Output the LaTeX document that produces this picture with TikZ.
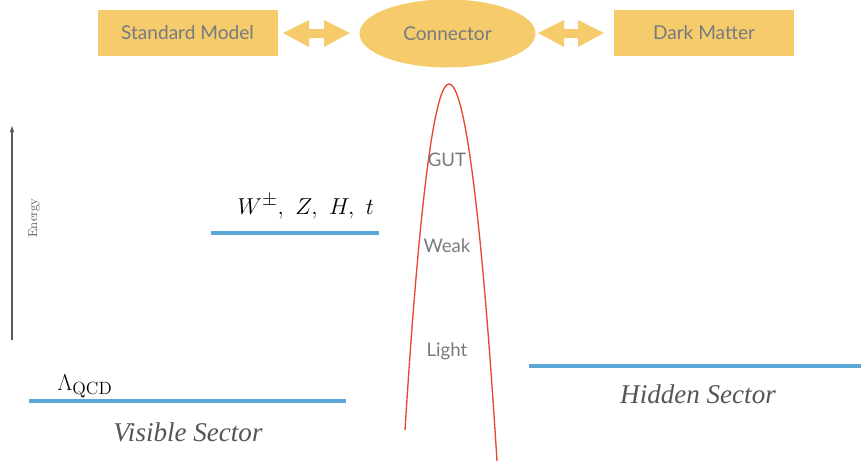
\documentclass[tikz,border=0pt]{standalone}
\usepackage{fontspec}
\setsansfont{Lato}
\newfontfamily\itfont{Liberation Serif}
\usetikzlibrary{shapes.geometric,arrows.meta}
\definecolor{boxyellow}{HTML}{F5CB6B}
\definecolor{boxtext}{HTML}{767B7F}
\definecolor{levelblue}{HTML}{5AA7D8}
\definecolor{curvered}{HTML}{E8462F}
\definecolor{sectorgray}{HTML}{555555}
\tikzset{
  x=0.75pt, y=-0.75pt,
  topbox/.style={fill=boxyellow, draw=none, minimum width=135pt, minimum height=34.5pt, inner sep=0pt,
    font=\sffamily\fontsize{14.3}{16}\selectfont, text=boxtext},
  connbox/.style={ellipse, fill=boxyellow, draw=none, minimum width=132pt, minimum height=51pt, inner sep=0pt,
    font=\sffamily\fontsize{14.3}{16}\selectfont, text=boxtext},
  dbl/.style={fill=boxyellow, draw=none},
  level/.style={draw=levelblue, line width=2.6pt},
  scale label/.style={font=\sffamily\fontsize{14}{16}\selectfont, text=boxtext},
  sector/.style={font=\itfont\itshape\fontsize{20.3}{22}\selectfont, text=sectorgray},
  mathlabel/.style={font=\fontsize{19}{21}\selectfont, text=black}
}
\begin{document}
\begin{tikzpicture}
\useasboundingbox (0,0) rectangle (861,461);
% top row
\node[topbox] (sm) at (187.5,33) {Standard Model};
\node[connbox] (conn) at (447.5,33.5) {Connector};
\node[topbox] (dm) at (704,33) {Dark Matter};
% double arrows
\fill[dbl] (283,33) -- (309,20) -- (309,29) -- (324,29) -- (324,20) -- (350,33)
  -- (324,47) -- (324,38) -- (309,38) -- (309,47) -- cycle;
\fill[dbl] (538,33) -- (564,20) -- (564,29) -- (578,29) -- (578,20) -- (604,33)
  -- (578,47) -- (578,38) -- (564,38) -- (564,47) -- cycle;
% energy axis
\coordinate (ebot) at (12,340);
\coordinate (etop) at (12,126);
\draw[line width=0.8pt, draw=black!65, -{Stealth[length=5pt,width=3.5pt]}] (ebot) -- (etop);
\node[rotate=90, font=\fontsize{9.5}{10}\selectfont, text=black!65] (elabel) at (34,218) {Energy};
% curve
\coordinate (cl) at (405,430);
\coordinate (ctop) at (449,84);
\coordinate (cr) at (497,461);
\draw[curvered, line width=1pt] (cl) parabola bend (ctop) (cr);
\node[scale label] (gut) at (447,160) {GUT};
\node[scale label] (weak) at (447,246) {Weak};
\node[scale label] (light) at (447,351) {Light};
% levels
\coordinate (w1) at (211,233);
\coordinate (w2) at (379,233);
\draw[level] (w1) -- (w2);
\node[mathlabel, anchor=base west] (wlabel) at (233,214) {$W^{\pm},\ Z,\ H,\ t$};
\coordinate (q1) at (29,401);
\coordinate (q2) at (346,401);
\draw[level] (q1) -- (q2);
\node[mathlabel, anchor=base west] (qlabel) at (53,390) {$\Lambda_{\mathrm{QCD}}$};
\coordinate (h1) at (529,366);
\coordinate (h2) at (861,366);
\draw[level] (h1) -- (h2);
\node[sector] (vis) at (188,432) {Visible Sector};
\node[sector] (hid) at (698,394) {Hidden Sector};
\end{tikzpicture}
\end{document}
